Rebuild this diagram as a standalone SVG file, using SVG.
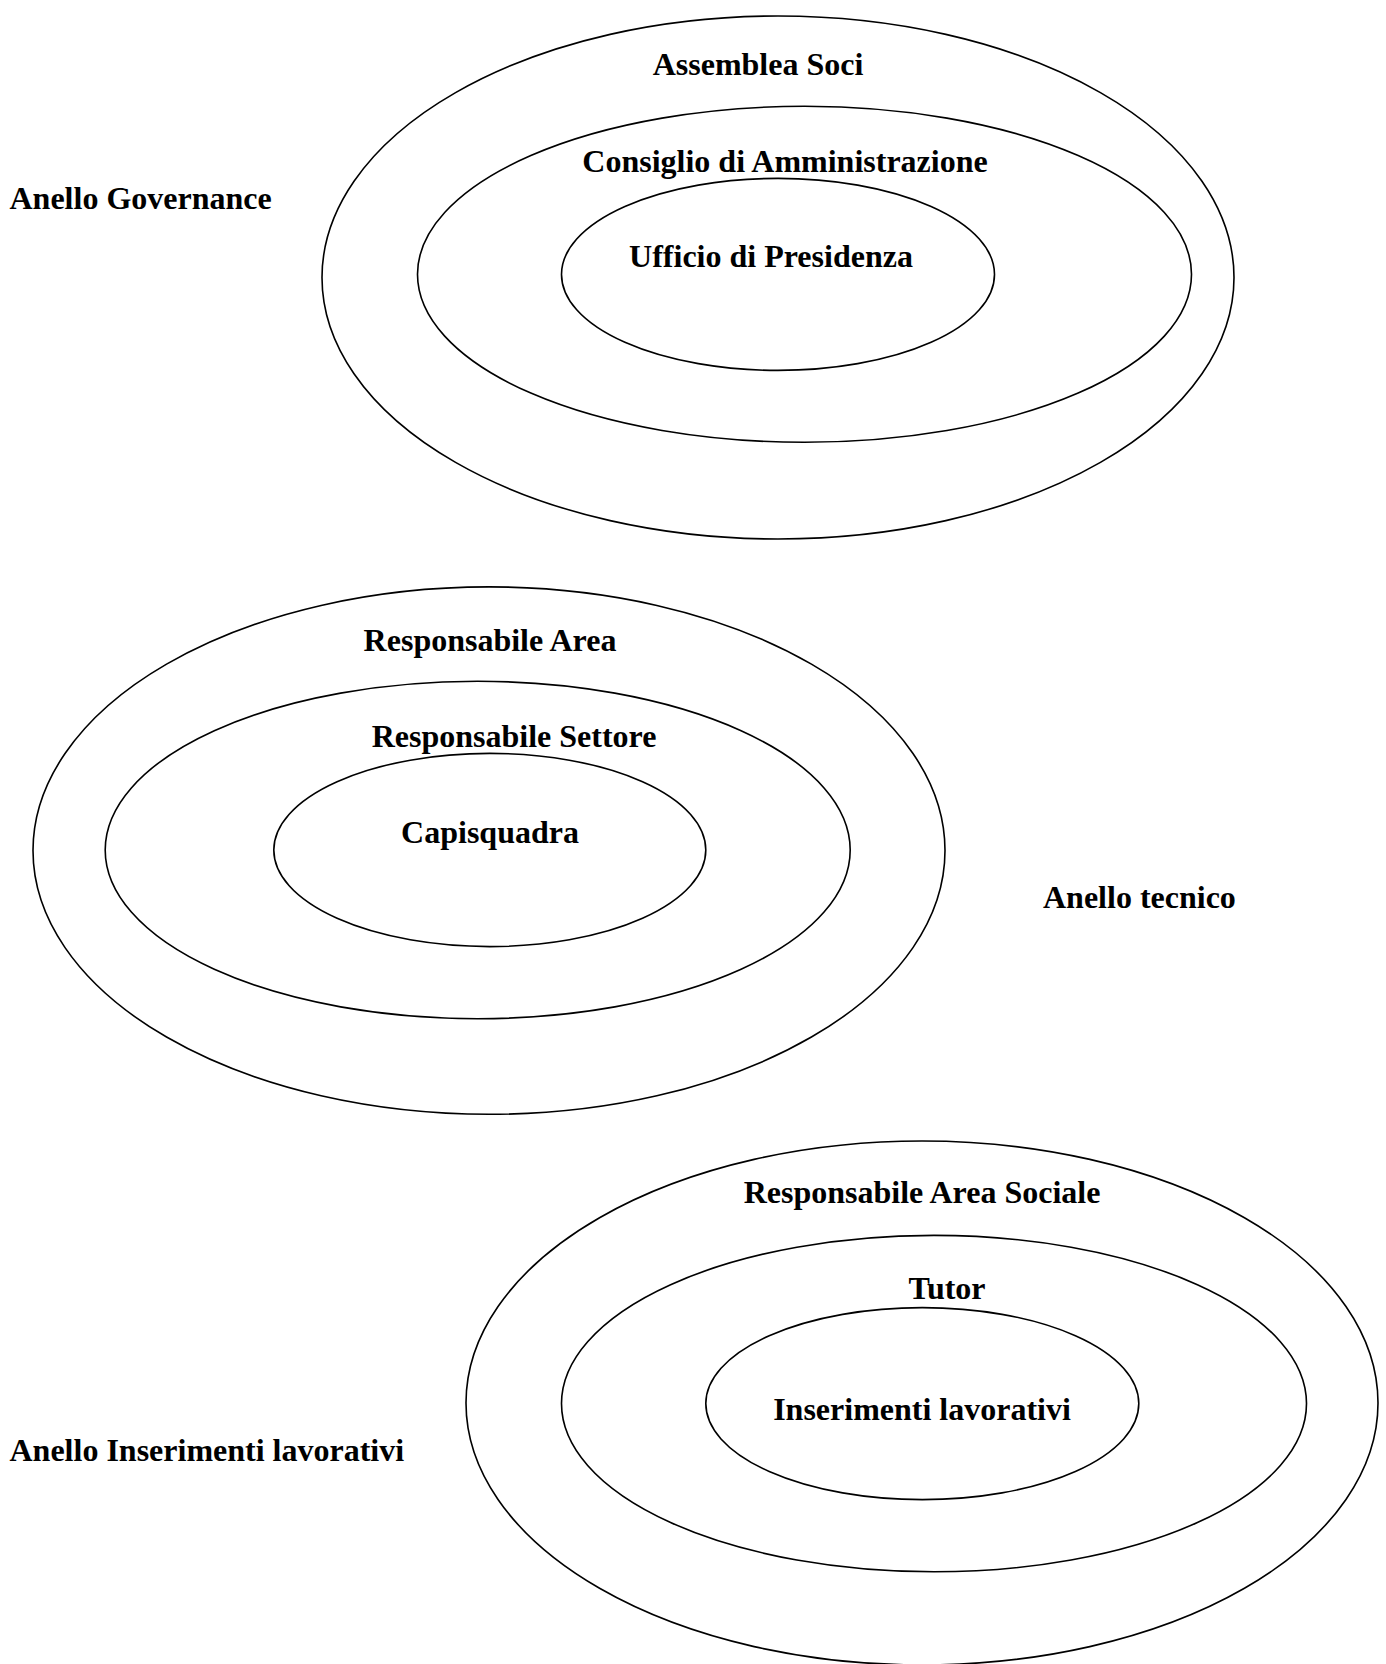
<svg xmlns="http://www.w3.org/2000/svg" width="1386" height="1664" viewBox="0 0 1386 1664">
<style>
.ring{fill:none;stroke:#000;stroke-width:1.6}
.t{font-family:"Liberation Serif","Times New Roman",serif;font-weight:bold;font-size:32px;fill:#000}
.c{text-anchor:middle}
</style>
<rect width="1386" height="1664" fill="#fff"/>
<g id="governance">
<g id="assemblea-soci"><ellipse class="ring" cx="778" cy="277.5" rx="456" ry="261.5"/><text class="t c" x="758" y="75">Assemblea Soci</text></g>
<g id="consiglio"><ellipse class="ring" cx="804.5" cy="274.3" rx="387" ry="168"/><text class="t c" x="785" y="172">Consiglio di Amministrazione</text></g>
<g id="ufficio-presidenza"><ellipse class="ring" cx="778" cy="274.4" rx="216.5" ry="96"/><text class="t c" x="771" y="267">Ufficio di Presidenza</text></g>
<g id="label-governance"><text class="t" x="9.5" y="209">Anello Governance</text></g>
</g>
<g id="tecnico">
<g id="responsabile-area"><ellipse class="ring" cx="489" cy="850.6" rx="456" ry="263.7"/><text class="t c" x="490" y="651">Responsabile Area</text></g>
<g id="responsabile-settore"><ellipse class="ring" cx="477.7" cy="850" rx="372.5" ry="168.7"/><text class="t c" x="514" y="747">Responsabile Settore</text></g>
<g id="capisquadra"><ellipse class="ring" cx="489.8" cy="850" rx="216" ry="96.6"/><text class="t c" x="490" y="843">Capisquadra</text></g>
<g id="label-tecnico"><text class="t" x="1043" y="908">Anello tecnico</text></g>
</g>
<g id="inserimenti">
<g id="responsabile-area-sociale"><ellipse class="ring" cx="922" cy="1403" rx="456" ry="262"/><text class="t c" x="922" y="1203">Responsabile Area Sociale</text></g>
<g id="tutor"><ellipse class="ring" cx="934" cy="1403.6" rx="372.5" ry="168.2"/><text class="t c" x="947" y="1299">Tutor</text></g>
<g id="inserimenti-lavorativi"><ellipse class="ring" cx="922.3" cy="1403.6" rx="216.5" ry="96"/><text class="t c" x="922" y="1420">Inserimenti lavorativi</text></g>
<g id="label-inserimenti"><text class="t" x="9.5" y="1461">Anello Inserimenti lavorativi</text></g>
</g>
<g id="connectors"/>
</svg>
